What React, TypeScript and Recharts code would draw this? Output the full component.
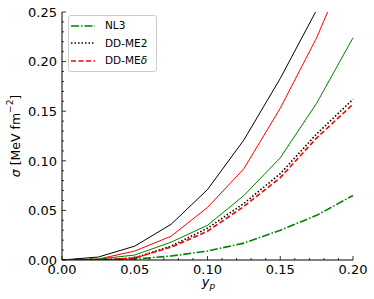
import React from 'react';
import { LineChart, Line, XAxis, YAxis, Legend, Label } from 'recharts';

const yp = [0, 0.025, 0.05, 0.075, 0.1, 0.125, 0.15, 0.175, 0.2];
const nl3 = [0, 0, 0.001, 0.004, 0.009, 0.017, 0.03, 0.045, 0.065];
const ddme2 = [0, 0, 0.002, 0.014, 0.032, 0.057, 0.087, 0.127, 0.162];
const ddmed = [0, 0, 0.002, 0.013, 0.029, 0.054, 0.083, 0.123, 0.157];
const blackSolid = [0, 0.003, 0.014, 0.036, 0.071, 0.121, 0.183, 0.252, 0.34];
const redSolid = [0, 0.001, 0.009, 0.024, 0.053, 0.092, 0.153, 0.224, 0.31];
const greenSolid = [0, 0.001, 0.005, 0.018, 0.035, 0.065, 0.103, 0.158, 0.224];

const xMajor = [0, 0.05, 0.1, 0.15, 0.2];
const xMinor = [0, 0.01, 0.02, 0.03, 0.04, 0.05, 0.06, 0.07, 0.08, 0.09, 0.1, 0.11, 0.12, 0.13, 0.14, 0.15, 0.16, 0.17, 0.18, 0.19, 0.2];
const yMajor = [0, 0.05, 0.1, 0.15, 0.2, 0.25];
const yMinor = [0, 0.01, 0.02, 0.03, 0.04, 0.05, 0.06, 0.07, 0.08, 0.09, 0.1, 0.11, 0.12, 0.13, 0.14, 0.15, 0.16, 0.17, 0.18, 0.19, 0.2, 0.21, 0.22, 0.23, 0.24, 0.25];

const data = yp.map((x, i) => ({
  x,
  nl3: nl3[i],
  ddme2: ddme2[i],
  ddmed: ddmed[i],
  bs: blackSolid[i],
  rs: redSolid[i],
  gs: greenSolid[i],
}));

const FONT = 'DejaVu Sans, sans-serif';
const isMajor = (v: number, arr: number[]) => arr.some((m) => Math.abs(m - v) < 1e-9);
const MAJ = 4;
const MIN = 2;

const BottomTick = (props: any) => {
  const { x, y, payload } = props;
  const v = payload.value;
  const major = isMajor(v, xMajor);
  return (
    <g>
      <line x1={x} x2={x} y1={y} y2={y - (major ? MAJ : MIN)} stroke="#000" strokeWidth={0.8} />
      {major && (
        <text x={x} y={y + 14} textAnchor="middle" fontFamily={FONT} fontSize={13} fill="#000">
          {v.toFixed(2)}
        </text>
      )}
    </g>
  );
};

const TopTick = (props: any) => {
  const { x, y, payload } = props;
  const major = isMajor(payload.value, xMajor);
  return <line x1={x} x2={x} y1={y} y2={y + (major ? MAJ : MIN)} stroke="#000" strokeWidth={0.8} />;
};

const LeftTick = (props: any) => {
  const { x, y, payload } = props;
  const v = payload.value;
  const major = isMajor(v, yMajor);
  return (
    <g>
      <line x1={x} x2={x + (major ? MAJ : MIN)} y1={y} y2={y} stroke="#000" strokeWidth={0.8} />
      {major && (
        <text x={x - 5} y={y + 4.7} textAnchor="end" fontFamily={FONT} fontSize={13} fill="#000">
          {v.toFixed(2)}
        </text>
      )}
    </g>
  );
};

const RightTick = (props: any) => {
  const { x, y, payload } = props;
  const major = isMajor(payload.value, yMajor);
  return <line x1={x} x2={x - (major ? MAJ : MIN)} y1={y} y2={y} stroke="#000" strokeWidth={0.8} />;
};

const XLabel = (props: any) => {
  const { viewBox } = props;
  const cx = viewBox.x + viewBox.width / 2 + 1;
  const by = viewBox.y + 26;
  return (
    <text x={cx} y={by} textAnchor="middle" fontFamily={FONT} fontSize={13} fill="#000">
      <tspan fontStyle="italic">y</tspan>
      <tspan fontStyle="italic" fontSize={9} dy={3}>p</tspan>
    </text>
  );
};

const YLabel = (props: any) => {
  const { viewBox } = props;
  const cx = 15;
  const cy = viewBox.y + viewBox.height / 2;
  return (
    <text
      x={cx}
      y={cy}
      textAnchor="middle"
      dominantBaseline="central"
      transform={`rotate(-90, ${cx}, ${cy})`}
      fontFamily={FONT}
      fontSize={12.5}
      fill="#000"
    >
      <tspan fontStyle="italic">σ</tspan>
      <tspan> [MeV fm</tspan>
      <tspan fontSize={9} dy={-5}>−2</tspan>
      <tspan dy={5}>]</tspan>
    </text>
  );
};

const legendItems = [
  { name: 'NL3', color: '#008000', dash: '8,2,1.5,2', width: 1.6 },
  { name: 'DD-ME2', color: '#000000', dash: '1.5,2', width: 1.6 },
  { name: 'DD-MEδ', color: '#ff0000', dash: '5,2.5', width: 1.6 },
];

const LegendBox = () => (
  <div
    style={{
      border: '1px solid #cccccc',
      borderRadius: 3,
      background: 'rgba(255,255,255,0.85)',
      padding: '1px 9px 1px 2px',
      fontFamily: FONT,
      fontSize: 10.5,
      lineHeight: '17.5px',
      color: '#000',
      whiteSpace: 'nowrap',
    }}
  >
    {legendItems.map((it) => (
      <div key={it.name} style={{ display: 'flex', alignItems: 'center', height: 17.5 }}>
        <svg width={24} height={8} style={{ display: 'block' }}>
          <line x1={0} x2={24} y1={4} y2={4} stroke={it.color} strokeWidth={it.width} strokeDasharray={it.dash} />
        </svg>
        <span style={{ marginLeft: 10 }}>
          {it.name === 'DD-MEδ' ? (
            <>
              DD-ME<i>δ</i>
            </>
          ) : (
            it.name
          )}
        </span>
      </div>
    ))}
  </div>
);

export default function App() {
  return (
    <div style={{ position: 'absolute', left: 0, top: 0, width: 374, height: 299, background: '#fff' }}>
      <LineChart width={374} height={299} data={data} margin={{ top: 12, right: 21, bottom: 0, left: 0 }}>
        <XAxis
          xAxisId="b"
          dataKey="x"
          type="number"
          domain={[0, 0.2]}
          ticks={xMinor}
          interval={0}
          tickSize={0}
          tickMargin={0}
          tick={<BottomTick />}
          height={39}
          axisLine={{ stroke: '#000', strokeWidth: 1 }}
        >
          <Label content={<XLabel />} />
        </XAxis>
        <XAxis
          xAxisId="t"
          orientation="top"
          dataKey="x"
          type="number"
          domain={[0, 0.2]}
          ticks={xMinor}
          interval={0}
          tickSize={0}
          tickMargin={0}
          tick={<TopTick />}
          height={0}
          axisLine={{ stroke: '#000', strokeWidth: 1 }}
        />
        <YAxis
          yAxisId="l"
          type="number"
          domain={[0, 0.25]}
          allowDataOverflow
          ticks={yMinor}
          interval={0}
          tickSize={0}
          tickMargin={0}
          tick={<LeftTick />}
          width={62}
          axisLine={{ stroke: '#000', strokeWidth: 1 }}
        >
          <Label content={<YLabel />} />
        </YAxis>
        <YAxis
          yAxisId="r"
          orientation="right"
          type="number"
          domain={[0, 0.25]}
          allowDataOverflow
          ticks={yMinor}
          interval={0}
          tickSize={0}
          tickMargin={0}
          tick={<RightTick />}
          width={0}
          axisLine={{ stroke: '#000', strokeWidth: 1 }}
        />
        <Line xAxisId="b" yAxisId="l" dataKey="bs" stroke="#000000" strokeWidth={1} dot={false} isAnimationActive={false} />
        <Line xAxisId="b" yAxisId="l" dataKey="rs" stroke="#ff0000" strokeWidth={1} dot={false} isAnimationActive={false} />
        <Line xAxisId="b" yAxisId="l" dataKey="gs" stroke="#008000" strokeWidth={1} dot={false} isAnimationActive={false} />
        <Line xAxisId="b" yAxisId="l" dataKey="nl3" stroke="#008000" strokeWidth={1.6} strokeDasharray="8,2,1.5,2" dot={false} isAnimationActive={false} />
        <Line xAxisId="b" yAxisId="l" dataKey="ddme2" stroke="#000000" strokeWidth={1.6} strokeDasharray="1.5,2" dot={false} isAnimationActive={false} />
        <Line xAxisId="b" yAxisId="l" dataKey="ddmed" stroke="#ff0000" strokeWidth={1.6} strokeDasharray="5,2.5" dot={false} isAnimationActive={false} />
        <Legend
          layout="vertical"
          align="center"
          verticalAlign="middle"
          content={<LegendBox />}
          wrapperStyle={{ left: 68, top: 15, width: 'auto', height: 'auto' }}
        />
      </LineChart>
    </div>
  );
}
